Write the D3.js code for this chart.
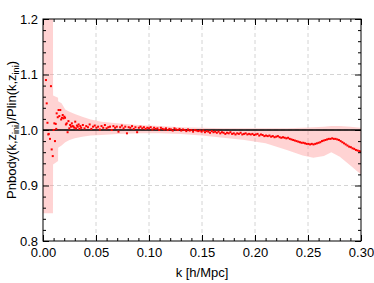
<!DOCTYPE html>
<html>
<head>
<meta charset="utf-8">
<script src="https://cdn.jsdelivr.net/npm/d3@7"></script>
<style>
  body { margin: 0; background: #fff; }
  svg { display: block; font-family: "Liberation Sans", Arial, Helvetica, sans-serif; }
</style>
</head>
<body>
<svg id="chart"></svg>
<script>
// ratio Pnbody / Plin
const kLow = [0.0028, 0.0035, 0.0042, 0.0050, 0.0054, 0.0066, 0.0075, 0.0082, 0.0092, 0.0100,
  0.0107, 0.0113, 0.0120, 0.0125, 0.0129, 0.0139, 0.0147, 0.0154, 0.0163, 0.0171,
  0.0179, 0.0186, 0.0193, 0.0201, 0.0208, 0.0216, 0.0224, 0.0232, 0.0240, 0.0248,
  0.0256, 0.0264, 0.0272, 0.0280, 0.0288, 0.0296, 0.0304, 0.0312, 0.0320, 0.0328,
  0.0336, 0.0344, 0.0352];
const ratioLow = [1.090, 1.048, 1.013, 0.992, 0.993, 0.984, 1.079, 0.965, 0.953, 1.000,
  1.012, 0.980, 1.011, 1.002, 1.030, 1.023, 1.036, 1.025, 1.036, 1.019,
  1.022, 1.027, 1.021, 1.024, 1.022, 1.010, 1.012, 0.996, 1.016, 1.003,
  1.009, 1.006, 1.012, 1.007, 1.006, 1.004, 1.015, 1.003, 1.008, 1.006,
  1.010, 1.002, 1.007];

const kHigh = [0.0360, 0.0376, 0.0392, 0.0408, 0.0424, 0.0440, 0.0456, 0.0472, 0.0488, 0.0504,
  0.0520, 0.0536, 0.0552, 0.0568, 0.0584, 0.0600, 0.0616, 0.0632, 0.0648, 0.0664,
  0.0680, 0.0696, 0.0712, 0.0728, 0.0744, 0.0760, 0.0776, 0.0792, 0.0808, 0.0824,
  0.0840, 0.0856, 0.0872, 0.0888, 0.0904, 0.0920, 0.0936, 0.0952, 0.0968, 0.0984,
  0.1000, 0.1016, 0.1032, 0.1048, 0.1064, 0.1080, 0.1096, 0.1112, 0.1128, 0.1144,
  0.1160, 0.1176, 0.1192, 0.1208, 0.1224, 0.1240, 0.1256, 0.1272, 0.1288, 0.1304,
  0.1320, 0.1336, 0.1352, 0.1368, 0.1384, 0.1400, 0.1416, 0.1432, 0.1448, 0.1464,
  0.1480, 0.1496, 0.1512, 0.1528, 0.1544, 0.1560, 0.1576, 0.1592, 0.1608, 0.1624,
  0.1640, 0.1656, 0.1672, 0.1688, 0.1704, 0.1720, 0.1736, 0.1752, 0.1768, 0.1784,
  0.1800, 0.1816, 0.1832, 0.1848, 0.1864, 0.1880, 0.1896, 0.1912, 0.1928, 0.1944,
  0.1960, 0.1976, 0.1992, 0.2008, 0.2024, 0.2040, 0.2056, 0.2072, 0.2088, 0.2104,
  0.2120, 0.2136, 0.2152, 0.2168, 0.2184, 0.2200, 0.2216, 0.2232, 0.2248, 0.2264,
  0.2280, 0.2296, 0.2312, 0.2328, 0.2344, 0.2360, 0.2376, 0.2392, 0.2408, 0.2424,
  0.2440, 0.2456, 0.2472, 0.2488, 0.2504, 0.2520, 0.2536, 0.2552, 0.2568, 0.2584,
  0.2600, 0.2616, 0.2632, 0.2648, 0.2664, 0.2680, 0.2696, 0.2712, 0.2728, 0.2744,
  0.2760, 0.2776, 0.2792, 0.2808, 0.2824, 0.2840, 0.2856, 0.2872, 0.2888, 0.2904,
  0.2920, 0.2936, 0.2952, 0.2968, 0.2984, 0.3000];
const ratioHigh = [1.004, 1.009, 1.003, 1.007, 1.005, 1.010, 1.002, 1.006, 1.008, 1.004,
  1.006, 1.001, 1.007, 1.004, 1.009, 1.003, 1.005, 1.006, 1.000, 1.007,
  1.004, 1.006, 0.997, 1.005, 1.008, 1.003, 1.006, 0.994, 1.005, 1.004,
  1.007, 1.002, 1.005, 0.996, 1.004, 1.006, 1.003, 1.005, 1.002, 1.004,
  1.003, 1.005, 1.001, 1.004, 1.002, 1.003, 1.000, 1.004, 1.002, 1.001,
  1.003, 1.000, 1.002, 1.001, 0.999, 1.003, 1.001, 1.000, 1.002, 0.999,
  1.001, 1.000, 0.998, 1.001, 0.999, 1.000, 0.997, 1.000, 0.999, 0.998,
  0.999, 0.997, 0.999, 0.996, 0.998, 0.997, 0.995, 0.998, 0.996, 0.997,
  0.995, 0.997, 0.994, 0.996, 0.995, 0.993, 0.995, 0.994, 0.996, 0.993,
  0.994, 0.992, 0.994, 0.993, 0.995, 0.992, 0.993, 0.994, 0.992, 0.993,
  0.992, 0.993, 0.991, 0.992, 0.993, 0.990, 0.992, 0.991, 0.989, 0.990,
  0.989, 0.990, 0.988, 0.989, 0.987, 0.988, 0.989, 0.987, 0.986, 0.987,
  0.986, 0.985, 0.986, 0.984, 0.983, 0.982, 0.981, 0.980, 0.979, 0.978,
  0.977, 0.977, 0.976, 0.975, 0.975, 0.974, 0.975, 0.974, 0.975, 0.976,
  0.977, 0.978, 0.980, 0.981, 0.982, 0.983, 0.984, 0.984, 0.985, 0.984,
  0.984, 0.983, 0.982, 0.980, 0.978, 0.976, 0.974, 0.972, 0.970, 0.969,
  0.967, 0.966, 0.964, 0.963, 0.962, 0.961];

// error band (shaded)
const bandK = [0, 0.0094, 0.0095, 0.0142, 0.0143, 0.0175, 0.0210, 0.0250, 0.0300, 0.0370,
  0.0450, 0.0550, 0.0700, 0.0900, 0.1100, 0.1300, 0.1500, 0.1700, 0.1900, 0.2100,
  0.2300, 0.2450, 0.2550, 0.2650, 0.2720, 0.2800, 0.2900, 0.3000];
const bandHi = [1.25, 1.25, 1.062, 1.058, 1.052, 1.048, 1.037, 1.033, 1.029, 1.024,
  1.019, 1.015, 1.012, 1.009, 1.007, 1.005, 1.004, 1.003, 1.003, 1.003,
  1.003, 1.004, 1.005, 1.006, 1.007, 1.007, 1.006, 1.004];
const bandLo = [0.85, 0.85, 0.938, 0.944, 0.968, 0.972, 0.978, 0.982, 0.985, 0.988,
  0.990, 0.991, 0.993, 0.994, 0.994, 0.993, 0.990, 0.986, 0.982, 0.976,
  0.964, 0.954, 0.950, 0.953, 0.960, 0.952, 0.936, 0.920];

const xMajor = [0, 0.05, 0.10, 0.15, 0.20, 0.25, 0.30];
const yMajor = [0.8, 0.9, 1.0, 1.1, 1.2];

const W = 374, H = 283;
const margin = {top: 19, right: 13, bottom: 42, left: 43};
const width = W - margin.left - margin.right;
const height = H - margin.top - margin.bottom;

const svg = d3.select('#chart').attr('width', W).attr('height', H);
const g = svg.append('g').attr('transform', 'translate(' + margin.left + ',' + margin.top + ')');

const x = d3.scaleLinear().domain([0, 0.3]).range([0, width]);
const y = d3.scaleLinear().domain([0.8, 1.2]).range([height, 0]);

g.append('defs').append('clipPath').attr('id', 'clip')
  .append('rect').attr('width', width).attr('height', height);

// dashed grid
const grid = g.append('g').attr('stroke', '#d4d4d4').attr('stroke-dasharray', '4,3').attr('stroke-width', 1);
grid.selectAll('line.v').data(xMajor.slice(1, -1)).enter().append('line')
  .attr('x1', d => x(d)).attr('x2', d => x(d)).attr('y1', 0).attr('y2', height);
grid.selectAll('line.h').data(yMajor.slice(1, -1)).enter().append('line')
  .attr('y1', d => y(d)).attr('y2', d => y(d)).attr('x1', 0).attr('x2', width);

const plot = g.append('g').attr('clip-path', 'url(#clip)');

// band
const band = bandK.map((k, i) => ({k: k, lo: bandLo[i], hi: bandHi[i]}));
plot.append('path')
  .datum(band)
  .attr('fill', 'rgba(255,140,140,0.38)')
  .attr('d', d3.area().x(d => x(d.k)).y0(d => y(d.lo)).y1(d => y(d.hi)));

// unity line
plot.append('line')
  .attr('x1', 0).attr('x2', width).attr('y1', y(1)).attr('y2', y(1))
  .attr('stroke', '#000').attr('stroke-width', 1.5);

// points
const pts = kLow.map((k, i) => [k, ratioLow[i]]).concat(kHigh.map((k, i) => [k, ratioHigh[i]]));
plot.selectAll('rect.pt').data(pts).enter().append('rect')
  .attr('class', 'pt')
  .attr('x', d => x(d[0]) - 1).attr('y', d => y(d[1]) - 1)
  .attr('width', 2).attr('height', 2)
  .attr('fill', '#ff0000');

// axes, ticks pointing inward on all four sides
const xMinor = d3.range(0, 31).map(i => i / 100).filter(v => Math.round(v * 100) % 5 !== 0);
const yMinor = d3.range(40, 61).map(i => i / 50).filter(v => Math.round(v * 50) % 5 !== 0);

function styleAxis(sel) {
  sel.select('.domain').remove();
  sel.selectAll('line').attr('stroke', '#000');
  sel.selectAll('text').attr('font-size', 13).attr('fill', '#000')
    .attr('font-family', '"Liberation Sans", Arial, Helvetica, sans-serif');
}

g.append('g').attr('transform', 'translate(0,' + height + ')')
  .call(d3.axisBottom(x).tickValues(xMajor).tickSize(-6).tickPadding(7).tickFormat(d3.format('.2f')))
  .call(styleAxis);
g.append('g').attr('transform', 'translate(0,' + height + ')')
  .call(d3.axisBottom(x).tickValues(xMinor).tickSize(-3).tickFormat(''))
  .call(styleAxis);
g.append('g')
  .call(d3.axisTop(x).tickValues(xMajor).tickSize(-6).tickFormat(''))
  .call(styleAxis);
g.append('g')
  .call(d3.axisTop(x).tickValues(xMinor).tickSize(-3).tickFormat(''))
  .call(styleAxis);

g.append('g')
  .call(d3.axisLeft(y).tickValues(yMajor).tickSize(-6).tickPadding(5).tickFormat(d3.format('.1f')))
  .call(styleAxis);
g.append('g')
  .call(d3.axisLeft(y).tickValues(yMinor).tickSize(-3).tickFormat(''))
  .call(styleAxis);
g.append('g').attr('transform', 'translate(' + width + ',0)')
  .call(d3.axisRight(y).tickValues(yMajor).tickSize(-6).tickFormat(''))
  .call(styleAxis);
g.append('g').attr('transform', 'translate(' + width + ',0)')
  .call(d3.axisRight(y).tickValues(yMinor).tickSize(-3).tickFormat(''))
  .call(styleAxis);

// frame
g.append('rect').attr('width', width).attr('height', height)
  .attr('fill', 'none').attr('stroke', '#000').attr('stroke-width', 1);

// axis titles
svg.append('text')
  .attr('x', margin.left + width / 2).attr('y', 277)
  .attr('text-anchor', 'middle').attr('font-size', 13)
  .text('k [h/Mpc]');

const yl = svg.append('text')
  .attr('transform', 'translate(16,' + (margin.top + height / 2) + ') rotate(-90)')
  .attr('text-anchor', 'middle').attr('font-size', 13);
yl.append('tspan').text('Pnbody(k,z');
yl.append('tspan').attr('font-size', 9).attr('dy', 3).text('ini');
yl.append('tspan').attr('dy', -3).text(')/Plin(k,z');
yl.append('tspan').attr('font-size', 9).attr('dy', 3).text('ini');
yl.append('tspan').attr('dy', -3).text(')');
</script>
</body>
</html>
